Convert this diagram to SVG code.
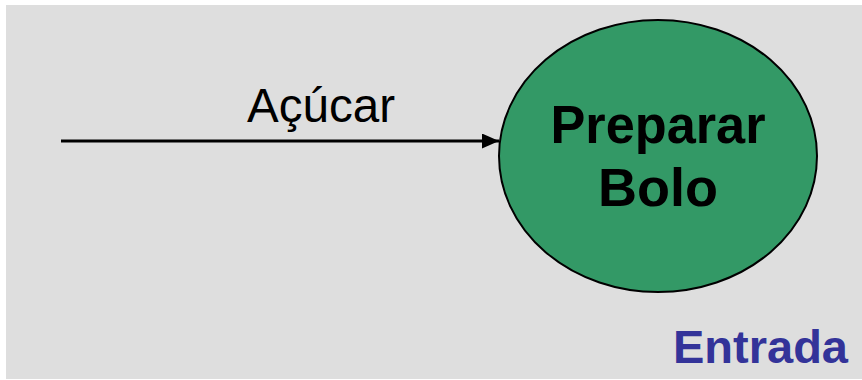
<svg xmlns="http://www.w3.org/2000/svg" width="862" height="380" viewBox="0 0 862 380">
<style>
.lbl{font-family:"Liberation Sans",Arial,sans-serif;fill:#000}
.b{font-weight:bold}
</style>
<defs>
<marker id="ah" markerWidth="17" markerHeight="15" refX="17" refY="7.5" orient="auto" markerUnits="userSpaceOnUse">
<path d="M0,0 L17,7.5 L0,15 Z" fill="#000"/>
</marker>
</defs>
<rect x="0" y="0" width="862" height="380" fill="#ffffff"/>
<rect x="6" y="5" width="856" height="374" fill="#dedede"/>
<g id="connectors">
<line x1="61" y1="141" x2="499" y2="141" stroke="#000" stroke-width="3" marker-end="url(#ah)"/>
<text class="lbl" x="321" y="122" font-size="48" text-anchor="middle" textLength="148" lengthAdjust="spacingAndGlyphs">Açúcar</text>
</g>
<g id="node-preparar-bolo">
<ellipse cx="658" cy="156" rx="159" ry="136" fill="#339966" stroke="#000" stroke-width="2"/>
<text class="lbl b" x="658" y="143" font-size="54" text-anchor="middle" textLength="215" lengthAdjust="spacingAndGlyphs">Preparar</text>
<text class="lbl b" x="658" y="206" font-size="54" text-anchor="middle">Bolo</text>
</g>
<text class="lbl b" x="848" y="363" font-size="47" text-anchor="end" style="fill:#333399">Entrada</text>
</svg>
